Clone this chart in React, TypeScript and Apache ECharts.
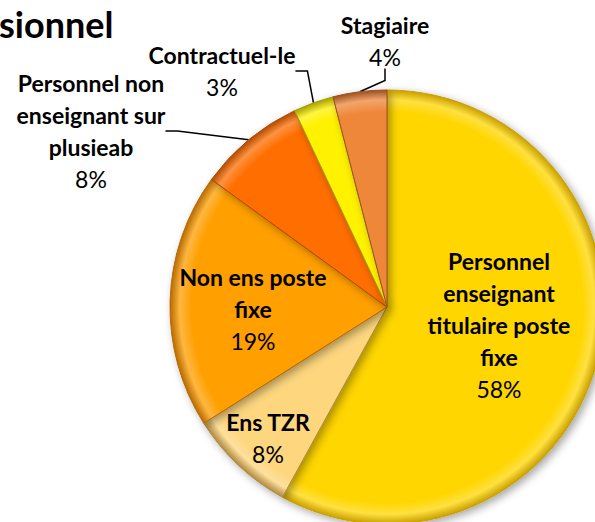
import React, { useEffect, useRef } from "react";
import * as echarts from "echarts";

const categories = [
  "Personnel\nenseignant\ntitulaire poste\nfixe",
  "Ens TZR",
  "Non ens poste\nfixe",
  "Personnel non\nenseignant sur\nplusieab",
  "Contractuel-le",
  "Stagiaire",
];
const values = [58, 8, 19, 8, 3, 4];
const colors = ["#FFD600", "#FDD67E", "#FF9F00", "#FF6E00", "#FFF200", "#EF873A"];
const edgeColors = ["#C9A000", "#B08A40", "#B86A00", "#B04A00", "#A8A000", "#9A5020"];

const CX = 387;
const CY = 307;
const R = 217;

// label layout (label centres)
const labelPos: { x: number; y: number; align: string }[] = [
  { x: 499, y: 325, align: "center" },
  { x: 268, y: 438, align: "center" },
  { x: 253, y: 309, align: "center" },
  { x: 91, y: 131, align: "center" },
  { x: 222, y: 71, align: "center" },
  { x: 385, y: 41, align: "center" },
];

function lighten(hex: string, amt: number) {
  const n = parseInt(hex.slice(1), 16);
  let r = (n >> 16) & 255, g = (n >> 8) & 255, b = n & 255;
  r = Math.round(r + (255 - r) * amt);
  g = Math.round(g + (255 - g) * amt);
  b = Math.round(b + (255 - b) * amt);
  return `rgb(${r},${g},${b})`;
}

export default function App() {
  const ref = useRef<HTMLDivElement>(null);
  useEffect(() => {
    if (!ref.current) return;
    const chart = echarts.init(ref.current, null, { renderer: "svg" });
    const data = categories.map((name, i) => ({
      name,
      value: values[i],
      itemStyle: {
        color: new echarts.graphic.RadialGradient(CX, CY, R, [
          { offset: 0, color: colors[i] },
          { offset: 0.9, color: colors[i] },
          { offset: 0.955, color: lighten(colors[i], 0.25) },
          { offset: 1, color: edgeColors[i] },
        ], true),
        borderColor: edgeColors[i],
        borderWidth: 1,
      },
      label: { position: i >= 3 ? "outside" : "inside" },
      labelLine: { show: i >= 3 },
    }));
    chart.setOption({
      animation: false,
      backgroundColor: "#ffffff",
      graphic: [
        {
          type: "text",
          left: -1,
          top: 6,
          style: {
            text: "sionnel",
            font: "bold 36px Lato",
            fill: "#000",
          },
        },
      ],
      series: [
        {
          type: "pie",
          center: [CX, CY],
          radius: R,
          startAngle: 90,
          clockwise: true,
          data,
          itemStyle: {
            shadowBlur: 8,
            shadowColor: "rgba(0,0,0,0.35)",
            shadowOffsetX: 3,
            shadowOffsetY: 3,
          },
          label: {
            show: true,
            overflow: "none",
            edgeDistance: 0,
            formatter: (p: any) => `{b|${p.name}}\n{c|${Math.round(p.percent)}%}`,
            color: "#000",
            rich: {
              b: { fontFamily: "Lato", fontWeight: "bold", fontSize: 23, lineHeight: 32, color: "#000", align: "center" },
              c: { fontFamily: "Lato", fontSize: 23, lineHeight: 32, color: "#000", align: "center" },
            },
            align: "center",
          },
          labelLine: {
            length: 15,
            length2: 12,
            lineStyle: { color: "#000", width: 1.5 },
          },
          labelLayout: (params: any) => {
            const p = labelPos[params.dataIndex];
            return { x: p.x, y: p.y, align: p.align, verticalAlign: "middle" };
          },
        },
      ],
    });
    return () => chart.dispose();
  }, []);
  return (
    <div
      ref={ref}
      style={{ position: "fixed", left: 0, top: 0, width: 595, height: 522 }}
    />
  );
}
